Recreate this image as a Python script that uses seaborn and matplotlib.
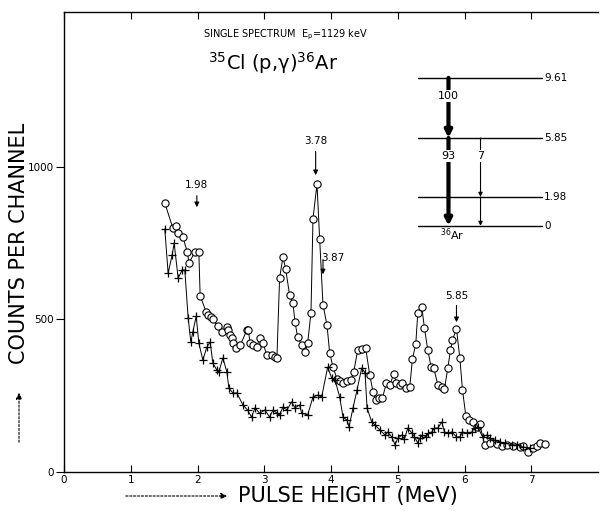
import numpy as np
import pandas as pd
import matplotlib
matplotlib.use("Agg")
import matplotlib.pyplot as plt
import seaborn as sns

# ---- data ----
circ_x = [1.51, 1.63, 1.68, 1.71, 1.78, 1.85, 1.87, 1.96, 2.02, 2.04, 2.13, 2.16, 2.20, 2.23,
          2.30, 2.37, 2.44, 2.46, 2.49, 2.52, 2.53, 2.57, 2.64, 2.74, 2.76, 2.79, 2.83, 2.89,
          2.93, 2.98, 3.04, 3.11, 3.16, 3.19, 3.23, 3.28, 3.32, 3.38, 3.43, 3.46, 3.50, 3.56,
          3.61, 3.65, 3.70, 3.73, 3.79, 3.83, 3.88, 3.94, 3.98, 4.03, 4.09, 4.13, 4.18, 4.24,
          4.30, 4.34, 4.40, 4.46, 4.52, 4.58, 4.63, 4.67, 4.72, 4.77, 4.83, 4.88, 4.94, 4.98,
          5.03, 5.07, 5.13, 5.18, 5.22, 5.27, 5.30, 5.36, 5.40, 5.45, 5.50, 5.54, 5.60, 5.66,
          5.70, 5.75, 5.79, 5.82, 5.88, 5.93, 5.97, 6.02, 6.07, 6.12, 6.18, 6.23, 6.30, 6.38,
          6.48, 6.56, 6.63, 6.72, 6.83, 6.87, 6.95, 7.02, 7.08, 7.13, 7.20]
circ_y = [882, 800, 805, 785, 770, 720, 685, 720, 720, 577, 525, 515, 508, 500,
          480, 459, 475, 465, 450, 440, 423, 406, 416, 465, 465, 423, 416, 410,
          440, 423, 383, 383, 378, 374, 636, 705, 666, 580, 554, 492, 443, 416,
          393, 423, 521, 830, 944, 764, 548, 482, 390, 344, 305, 298, 292, 298,
          302, 328, 400, 403, 406, 318, 262, 236, 243, 242, 292, 285, 321, 292,
          285, 292, 275, 279, 370, 420, 521, 541, 472, 400, 344, 341, 285, 279,
          272, 341, 400, 433, 469, 374, 269, 184, 170, 164, 148, 157, 89, 95,
          92, 85, 89, 85, 82, 85, 66, 79, 85, 95, 92]

cross_x = [1.51, 1.56, 1.62, 1.65, 1.71, 1.77, 1.81, 1.86, 1.90, 1.93, 1.98, 2.02, 2.08, 2.14,
           2.19, 2.23, 2.29, 2.32, 2.38, 2.44, 2.47, 2.53, 2.59, 2.68, 2.75, 2.81, 2.86, 2.93,
           3.01, 3.08, 3.13, 3.19, 3.23, 3.28, 3.34, 3.41, 3.46, 3.53, 3.56, 3.65, 3.73, 3.80,
           3.86, 3.95, 4.01, 4.06, 4.13, 4.18, 4.24, 4.27, 4.33, 4.39, 4.46, 4.51, 4.54, 4.61,
           4.66, 4.73, 4.81, 4.85, 4.91, 4.96, 5.00, 5.06, 5.10, 5.15, 5.21, 5.25, 5.30, 5.33,
           5.37, 5.43, 5.46, 5.51, 5.55, 5.60, 5.66, 5.70, 5.75, 5.81, 5.88, 5.93, 5.97, 6.03,
           6.11, 6.15, 6.20, 6.27, 6.33, 6.38, 6.45, 6.53, 6.60, 6.71, 6.78, 6.87, 6.98]
cross_y = [797, 652, 711, 750, 636, 662, 662, 505, 426, 459, 511, 423, 367, 410,
           426, 357, 334, 328, 374, 328, 275, 259, 259, 220, 203, 180, 210, 193,
           203, 180, 203, 193, 187, 213, 203, 230, 210, 220, 193, 187, 246, 252,
           246, 344, 308, 302, 246, 180, 170, 148, 210, 269, 341, 325, 210, 164,
           154, 138, 121, 131, 115, 89, 111, 121, 108, 144, 128, 115, 95, 111,
           121, 115, 128, 131, 144, 144, 164, 131, 128, 131, 115, 115, 131, 128,
           131, 144, 148, 115, 121, 111, 105, 98, 95, 89, 89, 82, 79]

x_ticks = [0, 1, 2, 3, 4, 5, 6, 7]
y_ticks = [0, 500, 1000]

peak_labels = ["1.98", "3.78", "3.87", "5.85"]
peak_x = [1.99, 3.77, 3.88, 5.88]

level_energies = ["9.61", "5.85", "1.98", "0"]
level_y = [1292, 1095, 902, 807]

# ---- figure ----
sns.set_style("ticks")
plt.rcParams['font.family'] = ['DejaVu Sans']
plt.rcParams['text.color'] = 'black'
plt.rcParams['axes.labelcolor'] = 'black'
plt.rcParams['xtick.color'] = 'black'
plt.rcParams['ytick.color'] = 'black'
plt.rcParams['axes.edgecolor'] = 'black'

fig = plt.figure(figsize=(6.01, 5.11), dpi=100)
ax = fig.add_axes([64/601, 1-472/511, (598-64)/601, (472-12)/511])

df_c = pd.DataFrame({"E": circ_x, "N": circ_y})
df_p = pd.DataFrame({"E": cross_x, "N": cross_y})

sns.lineplot(data=df_c, x="E", y="N", ax=ax, color="black", linewidth=0.7,
             marker="o", markersize=5.2, markerfacecolor="white", markeredgecolor="black",
             markeredgewidth=0.8, sort=False, estimator=None)
sns.lineplot(data=df_p, x="E", y="N", ax=ax, color="black", linewidth=0.7,
             marker="+", markersize=6, markeredgecolor="black", markeredgewidth=0.9,
             sort=False, estimator=None)

ax.set_xlim(0, 8)
ax.set_ylim(0, 1508)
ax.set_xticks(x_ticks)
ax.set_xticklabels([str(t) for t in x_ticks], fontsize=7.5, color="black")
ax.set_yticks(y_ticks)
ax.set_yticklabels([str(t) for t in y_ticks], fontsize=7.5, color="black")
ax.tick_params(axis="x", direction="in", length=5, width=0.8, top=True, pad=2, colors="black")
ax.tick_params(axis="y", direction="out", length=6, width=0.8, pad=1, colors="black")
ax.set_xlabel("")
ax.set_ylabel("")
for s in ["left", "bottom", "top"]:
    ax.spines[s].set_linewidth(1.0)
    ax.spines[s].set_color("black")
ax.spines["right"].set_visible(False)

# peak annotations
akw = dict(arrowstyle="-|>", color="black", lw=0.8, mutation_scale=7)
ax.annotate("", xy=(peak_x[0], 859), xytext=(peak_x[0], 915), arrowprops=akw)
ax.text(peak_x[0], 925, peak_labels[0], ha="center", va="bottom", fontsize=7.5)
ax.annotate("", xy=(peak_x[1], 964), xytext=(peak_x[1], 1060), arrowprops=akw)
ax.text(peak_x[1], 1068, peak_labels[1], ha="center", va="bottom", fontsize=7.5)
ax.annotate("", xy=(peak_x[2], 639), xytext=(peak_x[2], 705), arrowprops=akw)
ax.text(peak_x[2] - 0.02, 700, peak_labels[2], ha="left", va="center", fontsize=7.5)
ax.annotate("", xy=(peak_x[3], 482), xytext=(peak_x[3], 555), arrowprops=akw)
ax.text(peak_x[3], 562, peak_labels[3], ha="center", va="bottom", fontsize=7.5)

# level scheme inset
x0, x1 = 5.30, 7.16
for ly, lab in zip(level_y, level_energies):
    ax.plot([x0, x1], [ly, ly], color="black", lw=1.0)
    ax.text(x1 + 0.03, ly, lab, ha="left", va="center", fontsize=7.5)
xa = 5.76
thick = dict(arrowstyle="-|>", color="black", lw=3, mutation_scale=10, shrinkA=0, shrinkB=0)
ax.annotate("", xy=(xa, level_y[1]), xytext=(xa, level_y[0]), arrowprops=thick)
ax.annotate("", xy=(xa, level_y[3]), xytext=(xa, level_y[1]), arrowprops=thick)
ax.text(xa, 1233, "100", ha="center", va="center", fontsize=8,
        bbox=dict(facecolor="white", edgecolor="none", pad=1.0))
ax.text(xa, 1036, "93", ha="center", va="center", fontsize=8,
        bbox=dict(facecolor="white", edgecolor="none", pad=1.0))
xb = 6.24
thin = dict(arrowstyle="-|>", color="black", lw=0.8, mutation_scale=6, shrinkA=0, shrinkB=0)
ax.annotate("", xy=(xb, level_y[2]), xytext=(xb, level_y[1]), arrowprops=thin)
ax.annotate("", xy=(xb, level_y[3]), xytext=(xb, level_y[2]), arrowprops=thin)
ax.text(xb, 1036, "7", ha="center", va="center", fontsize=8,
        bbox=dict(facecolor="white", edgecolor="none", pad=1.0))
ax.text(xa + 0.05, 778, "$^{36}$Ar", ha="center", va="center", fontsize=8)

# titles
ax.text((286-64)/534, 1-(35-12)/460, "SINGLE SPECTRUM  E$_{\\rm p}$=1129 keV",
        transform=ax.transAxes, ha="center", va="center", fontsize=7)
ax.text((273-64)/534, 1-(63-12)/460, "$^{35}$Cl (p,\u03b3)$^{36}$Ar",
        transform=ax.transAxes, ha="center", va="center", fontsize=14)

# axis labels with arrows
fig.text(19/601, 1-243/511, "COUNTS PER CHANNEL", rotation=90, ha="center", va="center",
         fontsize=15)
fig.add_artist(matplotlib.patches.FancyArrowPatch(
    (19/601, 1-445/511), (19/601, 1-390/511), transform=fig.transFigure,
    arrowstyle="-|>", mutation_scale=9, lw=0.8, linestyle=(0, (2, 1.5)), color="black"))
fig.text(348/601, 1-496/511, "PULSE HEIGHT (MeV)", ha="center", va="center", fontsize=15)
fig.add_artist(matplotlib.patches.FancyArrowPatch(
    (123/601, 1-496/511), (230/601, 1-496/511), transform=fig.transFigure,
    arrowstyle="-|>", mutation_scale=9, lw=0.8, linestyle=(0, (2, 1.5)), color="black"))

fig.savefig("out.png", dpi=100, facecolor="white")
